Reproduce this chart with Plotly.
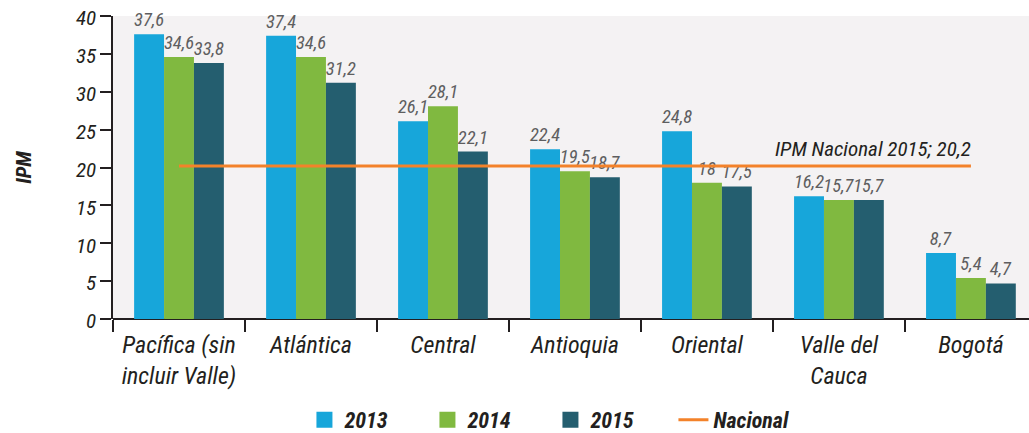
import plotly.graph_objects as go

categories = ["Pacífica (sin<br>incluir Valle)", "Atlántica", "Central", "Antioquia",
              "Oriental", "Valle del<br>Cauca", "Bogotá"]
v2013 = [37.6, 37.4, 26.1, 22.4, 24.8, 16.2, 8.7]
v2014 = [34.6, 34.6, 28.1, 19.5, 18.0, 15.7, 5.4]
v2015 = [33.8, 31.2, 22.1, 18.7, 17.5, 15.7, 4.7]
nacional = 20.2
yticks = [0, 5, 10, 15, 20, 25, 30, 35, 40]

FONT = "Liberation Sans Narrow, Roboto Condensed, Arial Narrow, Liberation Sans, sans-serif"
DARK = "#231f20"
GRAY = "#5e5e60"
colors = {"2013": "#17a6da", "2014": "#80b940", "2015": "#245e6f"}
ORANGE = "#f3822a"


def fmt(v):
    s = ("%g" % v)
    return s.replace(".", ",")


fig = go.Figure()
for name, vals in [("2013", v2013), ("2014", v2014), ("2015", v2015)]:
    fig.add_trace(go.Bar(
        x=categories, y=vals, name=name, showlegend=False,
        marker=dict(color=colors[name], line=dict(width=0)),
        text=[fmt(v) for v in vals], textposition="outside",
        textfont=dict(family=FONT, size=18.5, color=GRAY, style="italic"),
        constraintext="none", cliponaxis=False,
    ))

fig.add_trace(go.Scatter(
    x=categories, y=[nacional] * len(categories), mode="lines",
    line=dict(color=ORANGE, width=3), showlegend=False, hoverinfo="skip",
))

# legend entries
for name in ["2013", "2014", "2015"]:
    fig.add_trace(go.Scatter(
        x=[None], y=[None], mode="markers", name=name,
        marker=dict(symbol="square", size=18, color=colors[name]),
    ))
fig.add_trace(go.Scatter(
    x=[None], y=[None], mode="lines", name="Nacional",
    line=dict(color=ORANGE, width=3),
))

fig.add_annotation(
    x=categories[-1], y=nacional, xref="x", yref="y",
    text="IPM Nacional 2015; 20,2", showarrow=False,
    xanchor="right", yanchor="bottom", yshift=3, xshift=2,
    font=dict(family=FONT, size=21, color=DARK, style="italic"),
)

fig.update_layout(
    width=1029, height=433,
    margin=dict(l=113, r=0, t=16, b=114, autoexpand=False),
    paper_bgcolor="white", plot_bgcolor="#f4f2f3",
    barmode="group", bargap=0.32, bargroupgap=0,
    font=dict(family=FONT, color=DARK),
    legend=dict(
        orientation="h",
        x=0.209, y=-0.333, xanchor="left", yanchor="middle",
        font=dict(family=FONT, size=22, color=DARK, weight="bold", style="italic"),
        entrywidth=78, entrywidthmode="pixels", itemsizing="trace",
        bgcolor="rgba(0,0,0,0)", tracegroupgap=0,
    ),
    xaxis=dict(
        range=[-0.5, 6.44], showgrid=False, showline=False, automargin=False,
        ticks="outside", tickson="boundaries", ticklen=12, tickwidth=1.5,
        tickcolor=DARK, ticklabelstandoff=9,
        tickfont=dict(family=FONT, size=24, color=DARK, style="italic"),
    ),
    yaxis=dict(
        range=[0, 40], tickvals=yticks, showgrid=False, automargin=False,
        showline=True, linecolor=DARK, linewidth=1.5,
        ticks="outside", ticklen=11, tickwidth=1.5, tickcolor=DARK,
        zeroline=True, zerolinecolor=DARK, zerolinewidth=2,
        ticklabeloverflow="allow", ticklabelshift=2,
        tickfont=dict(family=FONT, size=21, color=DARK, style="italic"),
        title=dict(text="IPM", standoff=39,
                   font=dict(family=FONT, size=21, color=DARK, weight="bold", style="italic")),
    ),
)

fig.write_html(
    "out.html",
    config={"displayModeBar": False},
    post_script="document.body.style.margin='0';document.body.style.overflow='hidden';",
)
